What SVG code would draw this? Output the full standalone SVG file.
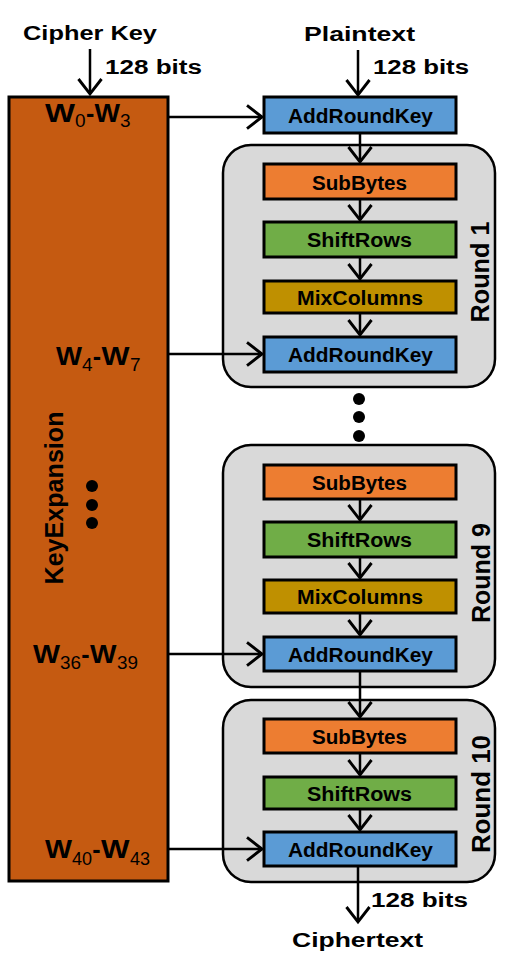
<svg xmlns="http://www.w3.org/2000/svg" width="518" height="977" viewBox="0 0 518 977">
<style>
text{font-family:"Liberation Sans",Arial,sans-serif;font-weight:bold;fill:#000}
.t{font-size:20px}
.r{font-size:25px;text-anchor:middle}
.w{font-size:25px}
.sub{font-size:19px;font-weight:normal}
.box{stroke:#000;stroke-width:3}
.ark{fill:#5B9BD5}
.sb{fill:#ED7D31}
.sr{fill:#70AD47}
.mc{fill:#BF9000}
.round{fill:#D9D9D9;stroke:#000;stroke-width:2.5}
.ln{stroke:#000;stroke-width:2.5;fill:none}
.dot{fill:#000}
</style>
<defs>
<marker id="ah" markerUnits="userSpaceOnUse" markerWidth="30" markerHeight="30" refX="0" refY="0" viewBox="-16 -13 20 26" orient="auto" overflow="visible">
<path d="M-13,-10 L0,0 L-13,10" fill="none" stroke="#000" stroke-width="2.5"/>
</marker>
</defs>

<g id="keyexpansion">
<rect x="9" y="97" width="159" height="784" fill="#C55A11" stroke="#000" stroke-width="3"/>
<text class="r" transform="translate(63,498) rotate(-90)" textLength="173" lengthAdjust="spacingAndGlyphs">KeyExpansion</text>
<circle class="dot" cx="92" cy="486" r="6"/>
<circle class="dot" cx="92" cy="505" r="6"/>
<circle class="dot" cx="92" cy="523" r="6"/>
<text class="w"><tspan x="45" y="122" textLength="30" lengthAdjust="spacingAndGlyphs">W</tspan><tspan class="sub" x="75" y="127">0</tspan><tspan x="86" y="122">-</tspan><tspan x="94.5" y="122" textLength="25.5" lengthAdjust="spacingAndGlyphs">W</tspan><tspan class="sub" x="120" y="127">3</tspan></text>
<text class="w"><tspan x="56" y="365" textLength="26" lengthAdjust="spacingAndGlyphs">W</tspan><tspan class="sub" x="82" y="371">4</tspan><tspan x="92.8" y="365">-</tspan><tspan x="101.5" y="365" textLength="28" lengthAdjust="spacingAndGlyphs">W</tspan><tspan class="sub" x="130" y="371">7</tspan></text>
<text class="w"><tspan x="33" y="663" textLength="27" lengthAdjust="spacingAndGlyphs">W</tspan><tspan class="sub" x="60" y="669" textLength="21" lengthAdjust="spacingAndGlyphs">36</tspan><tspan x="81.2" y="663">-</tspan><tspan x="90" y="663" textLength="26.5" lengthAdjust="spacingAndGlyphs">W</tspan><tspan class="sub" x="117" y="669" textLength="21" lengthAdjust="spacingAndGlyphs">39</tspan></text>
<text class="w"><tspan x="45" y="858" textLength="27" lengthAdjust="spacingAndGlyphs">W</tspan><tspan class="sub" x="72" y="865" textLength="20" lengthAdjust="spacingAndGlyphs">40</tspan><tspan x="92.2" y="858">-</tspan><tspan x="101" y="858" textLength="28.5" lengthAdjust="spacingAndGlyphs">W</tspan><tspan class="sub" x="130" y="865" textLength="20" lengthAdjust="spacingAndGlyphs">43</tspan></text>
</g>

<g id="labels">
<text class="t" x="23" y="40" textLength="134" lengthAdjust="spacingAndGlyphs">Cipher Key</text>
<text class="t" x="105" y="74" textLength="97" lengthAdjust="spacingAndGlyphs">128 bits</text>
<text class="t" x="304" y="41" textLength="111" lengthAdjust="spacingAndGlyphs">Plaintext</text>
<text class="t" x="373" y="74" textLength="96" lengthAdjust="spacingAndGlyphs">128 bits</text>
<text class="t" x="371" y="907" textLength="97" lengthAdjust="spacingAndGlyphs">128 bits</text>
<text class="t" x="292" y="947" textLength="131" lengthAdjust="spacingAndGlyphs">Ciphertext</text>
</g>

<g id="round1">
<rect class="round" x="223" y="145" width="272" height="242" rx="28"/>
<text class="r" transform="translate(489,272) rotate(-90)" textLength="101" lengthAdjust="spacingAndGlyphs">Round 1</text>
</g>
<g id="round9">
<rect class="round" x="223" y="445" width="272" height="242" rx="28"/>
<text class="r" transform="translate(490,573) rotate(-90)" textLength="100" lengthAdjust="spacingAndGlyphs">Round 9</text>
</g>
<g id="round10">
<rect class="round" x="223" y="700" width="272" height="182" rx="28"/>
<text class="r" transform="translate(490,794) rotate(-90)" textLength="118" lengthAdjust="spacingAndGlyphs">Round 10</text>
</g>

<g id="ark0"><rect class="box ark" x="264" y="97" width="192" height="36"/><text class="t" x="288" y="123" textLength="145" lengthAdjust="spacingAndGlyphs">AddRoundKey</text></g>

<g id="sb1"><rect class="box sb" x="264" y="164" width="192" height="35"/><text class="t" x="312" y="190" textLength="95" lengthAdjust="spacingAndGlyphs">SubBytes</text></g>
<g id="sr1"><rect class="box sr" x="264" y="222" width="192" height="35"/><text class="t" x="307" y="247" textLength="105" lengthAdjust="spacingAndGlyphs">ShiftRows</text></g>
<g id="mc1"><rect class="box mc" x="264" y="281" width="192" height="32"/><text class="t" x="297" y="305" textLength="126" lengthAdjust="spacingAndGlyphs">MixColumns</text></g>
<g id="ark1"><rect class="box ark" x="264" y="337" width="192" height="35"/><text class="t" x="288" y="362" textLength="145" lengthAdjust="spacingAndGlyphs">AddRoundKey</text></g>

<g id="dots">
<circle class="dot" cx="359" cy="399" r="6"/>
<circle class="dot" cx="359" cy="417" r="6"/>
<circle class="dot" cx="359" cy="436" r="6"/>
</g>

<g id="sb9"><rect class="box sb" x="264" y="465" width="192" height="34"/><text class="t" x="312" y="490" textLength="95" lengthAdjust="spacingAndGlyphs">SubBytes</text></g>
<g id="sr9"><rect class="box sr" x="264" y="522" width="192" height="35"/><text class="t" x="307" y="547" textLength="105" lengthAdjust="spacingAndGlyphs">ShiftRows</text></g>
<g id="mc9"><rect class="box mc" x="264" y="580" width="192" height="33"/><text class="t" x="297" y="604" textLength="126" lengthAdjust="spacingAndGlyphs">MixColumns</text></g>
<g id="ark9"><rect class="box ark" x="264" y="637" width="192" height="34"/><text class="t" x="288" y="662" textLength="145" lengthAdjust="spacingAndGlyphs">AddRoundKey</text></g>

<g id="sb10"><rect class="box sb" x="264" y="719" width="192" height="34"/><text class="t" x="312" y="744" textLength="95" lengthAdjust="spacingAndGlyphs">SubBytes</text></g>
<g id="sr10"><rect class="box sr" x="264" y="777" width="192" height="32"/><text class="t" x="307" y="801" textLength="105" lengthAdjust="spacingAndGlyphs">ShiftRows</text></g>
<g id="ark10"><rect class="box ark" x="264" y="832" width="192" height="34"/><text class="t" x="288" y="857" textLength="145" lengthAdjust="spacingAndGlyphs">AddRoundKey</text></g>

<g id="connectors">
<line class="ln" x1="90" y1="49" x2="90" y2="94" marker-end="url(#ah)"/>
<line class="ln" x1="358" y1="50" x2="358" y2="95" marker-end="url(#ah)"/>
<line class="ln" x1="168" y1="117" x2="262" y2="117" marker-end="url(#ah)"/>
<line class="ln" x1="360" y1="134" x2="360" y2="162" marker-end="url(#ah)"/>
<line class="ln" x1="360" y1="200" x2="360" y2="220" marker-end="url(#ah)"/>
<line class="ln" x1="360" y1="258" x2="360" y2="279" marker-end="url(#ah)"/>
<line class="ln" x1="360" y1="314" x2="360" y2="335" marker-end="url(#ah)"/>
<line class="ln" x1="168" y1="354" x2="262" y2="354" marker-end="url(#ah)"/>
<line class="ln" x1="360" y1="500" x2="360" y2="520" marker-end="url(#ah)"/>
<line class="ln" x1="360" y1="558" x2="360" y2="578" marker-end="url(#ah)"/>
<line class="ln" x1="360" y1="614" x2="360" y2="635" marker-end="url(#ah)"/>
<line class="ln" x1="168" y1="654" x2="262" y2="654" marker-end="url(#ah)"/>
<line class="ln" x1="360" y1="672" x2="360" y2="717" marker-end="url(#ah)"/>
<line class="ln" x1="360" y1="754" x2="360" y2="775" marker-end="url(#ah)"/>
<line class="ln" x1="360" y1="810" x2="360" y2="830" marker-end="url(#ah)"/>
<line class="ln" x1="168" y1="849" x2="262" y2="849" marker-end="url(#ah)"/>
<line class="ln" x1="358" y1="867" x2="358" y2="922" marker-end="url(#ah)"/>
</g>
</svg>
